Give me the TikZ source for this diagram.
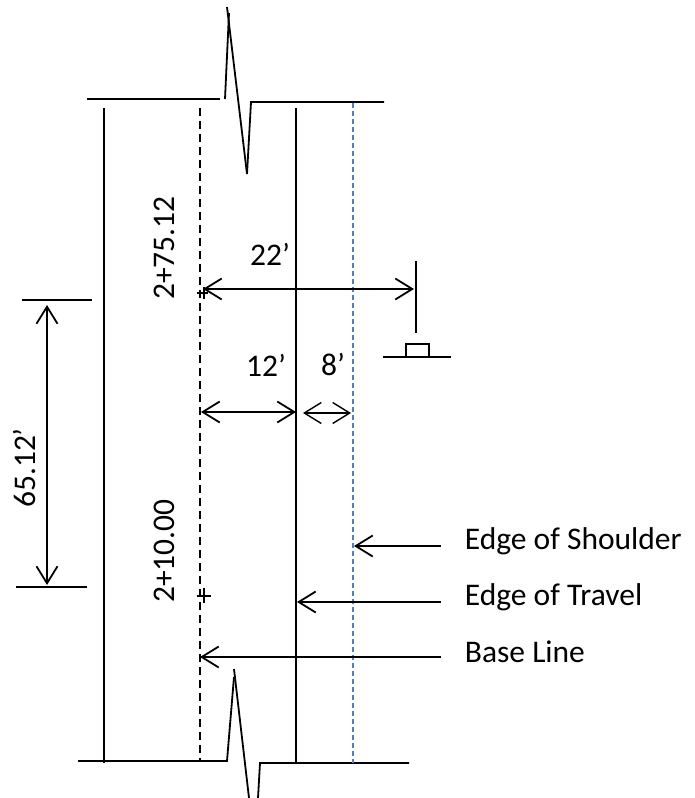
\documentclass[tikz,border=0pt]{standalone}
\usepackage{fontspec}
\setmainfont{Carlito}
\usetikzlibrary{arrows.meta, positioning}

\begin{document}
\begin{tikzpicture}[x=1pt, y=-1pt,
node distance = 23pt and 23pt,
line width = 1.8pt,
every node/.style = {inner sep=0pt, font=\fontsize{31.5}{36}\selectfont},
dim/.style = {{Straight Barb[length=17pt,width=21pt]}-{Straight Barb[length=17pt,width=21pt]}},
leader/.style = {-{Straight Barb[length=17pt,width=21pt]}},
baseline/.style = {dash pattern=on 8pt off 5pt},
                    ]
\definecolor{shoulderblue}{HTML}{4F81BD}
\useasboundingbox (0,0) rectangle (695,798);
%-------
\coordinate (topLeft)       at (87,99);
\coordinate (topBreakA)     at (220,99);
\coordinate (topBreakB)     at (225,99);
\coordinate (topPeakA)      at (229,13);
\coordinate (topPeakB)      at (227,7);
\coordinate (topValley)     at (247,174);
\coordinate (topBreakC)     at (251,102);
\coordinate (topRight)      at (384,102);
%
\coordinate (botLeft)       at (78,761);
\coordinate (botBreakA)     at (227,761);
\coordinate (botPeakA)      at (234,677);
\coordinate (botPeakB)      at (234,669);
\coordinate (botEndA)       at (249,798);
\coordinate (botEndB)       at (258,798);
\coordinate (botBreakB)     at (260,763);
\coordinate (botRight)      at (409,763);
%---
\draw   (topLeft) -- (topBreakA);
\draw   (topBreakB) -- (topPeakA);
\draw   (topPeakB) -- (topValley);
\draw   (topValley) -- (topBreakC) -- (topRight);
\draw   (botLeft) -- (botBreakA) -- (botPeakA);
\draw   (botPeakB) -- (botEndA);
\draw   (botEndB) -- (botBreakB) -- (botRight);
%--- long lines
\coordinate (farTop)    at (104,108);
\coordinate (farBot)    at (104,763);
\coordinate (baseTop)   at (200,108);
\coordinate (baseBot)   at (200,761);
\coordinate (travelTop) at (296,108);
\coordinate (travelBot) at (296,763);
\coordinate (shldTop)   at (353,103);
\coordinate (shldBot)   at (353,763);
\draw   (farTop) -- (farBot);
\draw[baseline] (baseTop) -- (baseBot);
\draw   (travelTop) -- (travelBot);
\draw[draw=shoulderblue, line width=2pt, dash pattern=on 5pt off 3pt] (shldTop) -- (shldBot);
%--- station marks
\coordinate (markUpW)   at (197,293);
\coordinate (markUpE)   at (208,293);
\coordinate (markUpN)   at (204,287);
\coordinate (markUpS)   at (204,299);
\coordinate (markLoW)   at (197,596);
\coordinate (markLoE)   at (211,596);
\coordinate (markLoN)   at (204,588);
\coordinate (markLoS)   at (204,603);
\draw   (markUpW) -- (markUpE)  (markUpN) -- (markUpS);
\draw   (markLoW) -- (markLoE)  (markLoN) -- (markLoS);
%--- sign
\coordinate (signTop)   at (416,261);
\coordinate (signBot)   at (416,333);
\coordinate (groundW)   at (383,357);
\coordinate (groundE)   at (451,357);
\coordinate (postSW)    at (406,357);
\coordinate (postNE)    at (429,344);
\draw   (signTop) -- (signBot);
\draw   (groundW) -- (groundE);
\draw   (postSW) rectangle (postNE);
%--- dimensions
\coordinate (dimA)      at (203,289);
\coordinate (dimB)      at (414,289);
\coordinate (dimC)      at (201,412);
\coordinate (dimD)      at (296,412);
\coordinate (dimE)      at (303,413);
\coordinate (dimF)      at (351,413);
\coordinate (tickTopW)  at (22,300);
\coordinate (tickTopE)  at (92,300);
\coordinate (tickBotW)  at (16,587);
\coordinate (tickBotE)  at (87,587);
\coordinate (dimG)      at (47,305);
\coordinate (dimH)      at (47,585);
\draw[dim]  (dimA) -- (dimB);
\draw[dim]  (dimC) -- (dimD);
\draw[dim, line width=1.4pt]  (dimE) -- (dimF);
\draw[dim]  (dimG) -- (dimH);
\draw   (tickTopW) -- (tickTopE);
\draw   (tickBotW) -- (tickBotE);
%
\node (dimTwentyTwo)    at (270,254)    {22’};
\node (dimTwelve)       at (266,365)    {12’};
\node (dimEight)        at (333,365)    {8’};
\node (dimTotal)        [rotate=90] at (25,468)     {65.12’};
\node (staUpper)        [rotate=90] at (164,248)    {2+75.12};
\node (staLower)        [rotate=90] at (164,551)    {2+10.00};
%--- leaders
\coordinate (shldTail)      at (441,546);
\coordinate (shldHead)      at (354,546);
\coordinate (travelTail)    at (441,602);
\coordinate (travelHead)    at (297,602);
\coordinate (baseTail)      at (441,657);
\coordinate (baseHead)      at (200,657);
\draw[leader]   (shldTail) -- (shldHead);
\draw[leader]   (travelTail) -- (travelHead);
\draw[leader]   (baseTail) -- (baseHead);
%
\node (shldLabel)   [right=of shldTail, yshift=5pt]     {Edge of Shoulder};
\node (travelLabel) [right=of travelTail, yshift=5pt]   {Edge of Travel};
\node (baseLabel)   [right=of baseTail, yshift=5pt]     {Base Line};
\end{tikzpicture}
\end{document}
